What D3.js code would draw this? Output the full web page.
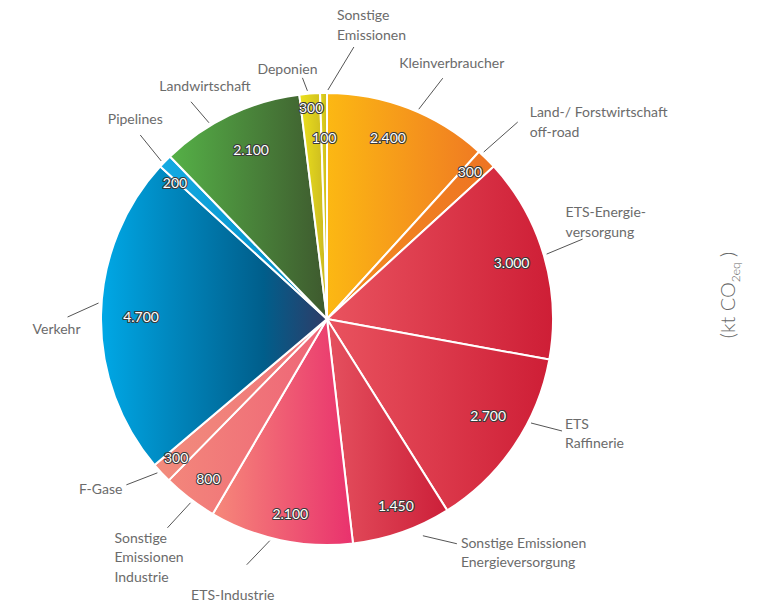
<!DOCTYPE html>
<html>
<head>
<meta charset="utf-8">
<script src="https://cdn.jsdelivr.net/npm/d3@7"></script>
<style>
  body { margin: 0; background: #fff; }
  text { font-family: Lato, "Open Sans", sans-serif; }
</style>
</head>
<body>
<div id="chart-area"></div>
<script>
// categories, clockwise from 12 o'clock
var categories = [
  "Kleinverbraucher",
  "Land-/ Forstwirtschaft\noff-road",
  "ETS-Energie-\nversorgung",
  "ETS\nRaffinerie",
  "Sonstige Emissionen\nEnergieversorgung",
  "ETS-Industrie",
  "Sonstige\nEmissionen\nIndustrie",
  "F-Gase",
  "Verkehr",
  "Pipelines",
  "Landwirtschaft",
  "Deponien",
  "Sonstige\nEmissionen"
];
// emissions (kt CO2eq)
var values = [2400, 300, 3000, 2700, 1450, 2100, 800, 300, 4700, 200, 2100, 300, 100];

// gradient colours (left -> right) per slice, optional stop offsets
var colors = [
  ["#fcb813", "#f07b22"],
  ["#f28c1e", "#ee7423"],
  ["#e9535f", "#ce1e36"],
  ["#e9535f", "#ce1e36"],
  ["#e5515f", "#cc1f39"],
  ["#f6897a", "#e9316d"],
  ["#f3867b", "#ee6477"],
  ["#f28b7c", "#ef7479"],
  ["#00a8e6", "#0088bf", "#005e8b", "#2f3b67"],
  ["#14abe3", "#0086bf"],
  ["#55b147", "#3e592e"],
  ["#ede21c", "#c9b720"],
  ["#e2d41b", "#cdbd1e"]
];
var stopOffsets = {8: [0, 0.3, 0.72, 1]};

// label placement: value label radius / angle shift, leader angle shift, leader delta, text offset
var place = [
  {vr: 191, vda: -2.5, lda: 2.5,  lead: [24, -31], t: [9, -10, "middle"]},
  {vr: 205, vda: -0.7, lda: -1.7, lead: [34, -30], t: [12, -5, "start"]},
  {vr: 193, vda: -0.9, lda: -0.4, lead: [36, -15], t: [-17, -22, "start"]},
  {vr: 188, vda: -3.1, lda: -7.1, lead: [31, 8],   t: [3, -2, "start"]},
  {vr: 199, vda: -0.9, lda: -4.5, lr: 237, lead: [34, 8], t: [4, 4, "start"]},
  {vr: 198, vda: -1.2, lda: 2.6,  lead: [-23, 24], t: [-14, 35, "middle"]},
  {vr: 199, vda: -0.8, lda: -0.8, lead: [-23, 25], t: [-53, 15, "start"]},
  {vr: 205, vda: 0.3,  lda: 0.7,  lead: [-31, 12], t: [-4, 9, "end"]},
  {vr: 186, vda: -0.5, lda: 2.9,  lead: [-31, 14], t: [-11, 17, "middle"]},
  {vr: 204, vda: -2.4, lda: -0.6, lead: [-21, -26], t: [-5, -11, "middle"]},
  {vr: 185, vda: 1.3,  lda: -5.5, lead: [-18, -21], t: [14, -11, "middle"]},
  {vr: 212, vda: 0.1,  lda: -0.5, lead: [-5, -13], t: [-15, -4, "middle"]},
  {vr: 181, vda: 0,    lda: 1.1,  lead: [26, -43], t: [-17, -27, "start"]}
];

var width = 760, height = 608;
var cx = 327, cy = 319, radius = 226;

var svg = d3.select("#chart-area")
  .append("svg")
  .attr("width", width)
  .attr("height", height);

var defs = svg.append("defs");
colors.forEach(function(c, i) {
  var g = defs.append("linearGradient")
    .attr("id", "grad" + i)
    .attr("x1", 0).attr("x2", 1).attr("y1", 0).attr("y2", 0);
  c.forEach(function(col, j) {
    g.append("stop")
      .attr("offset", stopOffsets[i] ? stopOffsets[i][j] : j / (c.length - 1))
      .attr("stop-color", col);
  });
});

var pie = d3.pie().sort(null).value(function(d) { return d; });
var arcs = pie(values);
var arc = d3.arc().innerRadius(0).outerRadius(radius);

var chart = svg.append("g")
  .attr("transform", "translate(" + cx + "," + cy + ")");

chart.selectAll("path.slice")
  .data(arcs)
  .enter()
  .append("path")
  .attr("class", "slice")
  .attr("d", arc)
  .attr("fill", function(d, i) { return "url(#grad" + i + ")"; })
  .attr("stroke", "#fff")
  .attr("stroke-width", 2)
  .attr("stroke-linejoin", "round");

function polar(r, deg) {
  var a = deg * Math.PI / 180;
  return [r * Math.sin(a), -r * Math.cos(a)];
}
function midDeg(d) { return (d.startAngle + d.endAngle) / 2 * 180 / Math.PI; }

var fmt = d3.formatLocale({decimal: ",", thousands: ".", grouping: [3], currency: ["", "€"]}).format(",");

// value labels
chart.selectAll("text.value")
  .data(arcs)
  .enter()
  .append("text")
  .attr("class", "value")
  .attr("x", function(d, i) { return polar(place[i].vr, midDeg(d) + place[i].vda)[0]; })
  .attr("y", function(d, i) { return polar(place[i].vr, midDeg(d) + place[i].vda)[1]; })
  .attr("dy", "0.36em")
  .attr("text-anchor", "middle")
  .style("font-size", "14px")
  .style("fill", "#fff")
  .style("stroke", "#3a3a3a")
  .style("stroke-width", 2.2)
  .style("paint-order", "stroke")
  .style("stroke-linejoin", "round")
  .text(function(d) { return fmt(d.data); });

// leader lines + category labels
arcs.forEach(function(d, i) {
  var p = place[i];
  var s = polar(p.lr || radius + 3, midDeg(d) + p.lda);
  var e = [s[0] + p.lead[0], s[1] + p.lead[1]];
  chart.append("line")
    .attr("x1", s[0]).attr("y1", s[1])
    .attr("x2", e[0]).attr("y2", e[1])
    .attr("stroke", "#555")
    .attr("stroke-width", 1);
  var lines = categories[i].split("\n");
  var t = chart.append("text")
    .attr("text-anchor", p.t[2])
    .style("font-size", "14px")
    .style("fill", "#6b6b6b");
  lines.forEach(function(l, k) {
    t.append("tspan")
      .attr("x", e[0] + p.t[0])
      .attr("y", e[1] + p.t[1] + k * 19.5)
      .text(l);
  });
});

// unit label
var unit = svg.append("text")
  .attr("transform", "translate(735,295) rotate(-90)")
  .attr("text-anchor", "middle")
  .style("font-size", "20px")
  .style("font-weight", 300)
  .style("fill", "#666");
unit.append("tspan").text("(kt CO");
unit.append("tspan").attr("dy", 5).style("font-size", "12px").text("2eq");
unit.append("tspan").attr("dy", -5).text(" )");
</script>
</body>
</html>
